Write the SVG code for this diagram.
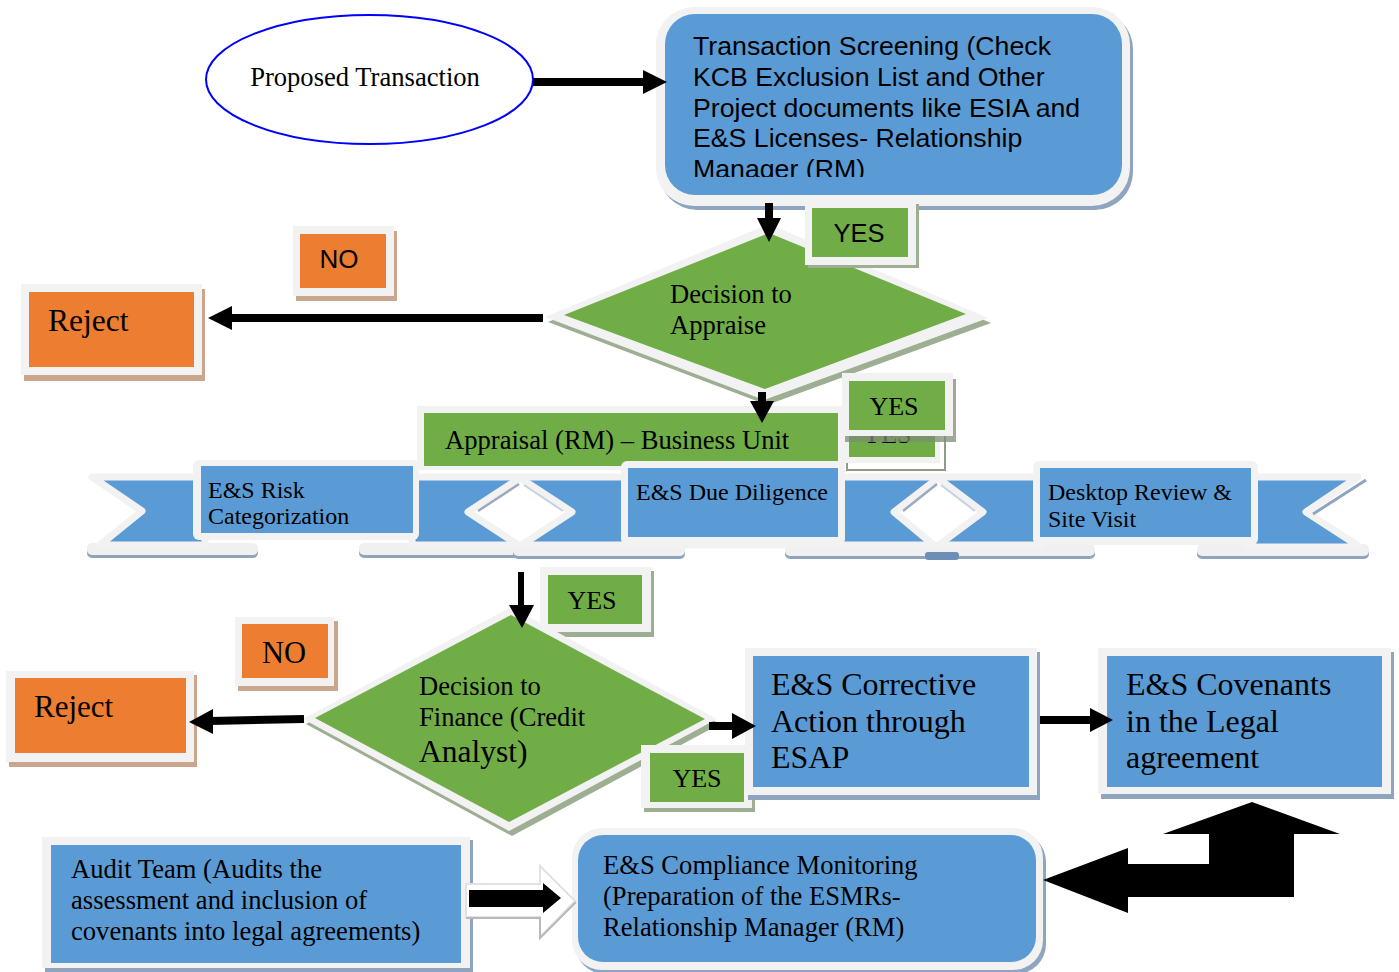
<svg xmlns="http://www.w3.org/2000/svg" width="1399" height="972" viewBox="0 0 1399 972">
<defs>
<style>
.serif{font-family:"Liberation Serif","Times New Roman",serif;fill:#000}
.sans{font-family:"Liberation Sans",Arial,sans-serif;fill:#000}
.blue{fill:#5B9BD5}
.green{fill:#70AD47}
.orange{fill:#ED7D31}
.bord{fill:#F2F2F2}
.shb{fill:#8FA4BF}
.sho{fill:#C9A68C}
.shg{fill:#9DAE93}
.ln{stroke:#000;stroke-width:8;fill:none}
.hd{fill:#000}
.rib{fill:#5B9BD5;stroke:#F2F2F2;stroke-width:7;stroke-linejoin:round}
.tab{fill:#F0F0F0}
</style>
<clipPath id="clipScr"><rect x="660" y="10" width="470" height="167"/></clipPath>
</defs>
<rect width="1399" height="972" fill="#fff"/>

<g id="proposed">
<ellipse cx="369.5" cy="79.5" rx="163.5" ry="64.5" fill="#fff" stroke="#0000FF" stroke-width="2"/>
<text class="serif" x="365" y="86" font-size="26.6" text-anchor="middle">Proposed Transaction</text>
</g>

<g id="screening">
<rect x="659" y="11" width="474" height="199" rx="38" class="shb"/>
<rect x="656" y="7" width="474" height="199" rx="38" class="bord"/>
<rect x="665" y="14" width="457" height="181" rx="30" class="blue"/>
<g clip-path="url(#clipScr)" class="sans" font-size="26.7">
<text x="693" y="55">Transaction Screening (Check</text>
<text x="693" y="86">KCB Exclusion List and Other</text>
<text x="693" y="117">Project documents like ESIA and</text>
<text x="693" y="147">E&amp;S Licenses- Relationship</text>
<text x="693" y="178">Manager (RM)</text>
</g>
</g>

<g id="decision-appraise">
<polygon points="548,322 769,229 991,323 767,405" class="shg"/>
<polygon points="545,317 769,224 988,318 764,400" class="bord"/>
<polygon points="564,315 769,233 966,314 765,389" class="green"/>
<text class="serif" font-size="26.6" x="670" y="303">Decision to</text>
<text class="serif" font-size="26.6" x="670" y="334">Appraise</text>
</g>

<g id="yes1">
<rect x="808" y="204" width="111" height="64" class="shg"/>
<rect x="805" y="200" width="111" height="65" class="bord"/>
<rect x="812" y="208" width="96" height="49" class="green"/>
<text class="sans" font-size="25.5" x="859" y="242" text-anchor="middle">YES</text>
</g>

<g id="no1">
<rect x="296" y="231" width="101" height="70" class="sho"/>
<rect x="293" y="226" width="101" height="70" class="bord"/>
<rect x="300" y="234" width="86" height="54" class="orange"/>
<text class="sans" font-size="26" x="339" y="268" text-anchor="middle">NO</text>
</g>

<g id="reject1">
<rect x="24" y="289" width="181" height="92" class="sho"/>
<rect x="21" y="284" width="181" height="91" class="bord"/>
<rect x="29" y="292" width="165" height="75" class="orange"/>
<text class="serif" font-size="31.5" x="48" y="331">Reject</text>
</g>

<g id="appraisal">
<rect x="417" y="406" width="428" height="64" class="bord"/>
<rect x="424" y="413" width="414" height="53" class="green"/>
<text class="serif" font-size="26.6" x="445" y="449">Appraisal (RM) – Business Unit</text>
</g>

<g id="yes2-ghost">
<rect x="847" y="420" width="98" height="50" fill="none" stroke="#8E9C86" stroke-width="2"/>
<rect x="842" y="414" width="98" height="49" class="bord"/>
<rect x="849" y="422" width="86" height="35" class="green"/>
<text class="serif" font-size="26" x="887" y="443" text-anchor="middle">YES</text>
</g>

<g id="yes2">
<rect x="845" y="379" width="111" height="63" fill="#7E8C76" opacity="0.75"/>
<rect x="842" y="373" width="111" height="63" class="bord"/>
<rect x="849" y="381" width="96" height="49" class="green"/>
<text class="serif" font-size="26" x="894" y="415" text-anchor="middle">YES</text>
</g>

<g id="ribbon">
<rect x="87" y="546" width="171" height="12" rx="5" class="shb"/>
<rect x="87" y="543" width="171" height="12" rx="5" class="tab"/>
<rect x="359" y="546" width="163" height="12" rx="5" class="shb"/>
<rect x="359" y="543" width="163" height="12" rx="5" class="tab"/>
<rect x="513" y="547" width="172" height="12" rx="5" class="shb"/>
<rect x="513" y="544" width="172" height="12" rx="5" class="tab"/>
<rect x="785" y="547" width="310" height="12" rx="5" class="shb"/>
<rect x="785" y="544" width="310" height="12" rx="5" class="tab"/>
<rect x="925" y="552" width="34" height="8" rx="3" fill="#6E8FB5"/>
<rect x="1197" y="547" width="172" height="12" rx="5" class="shb"/>
<rect x="1197" y="544" width="172" height="12" rx="5" class="tab"/>
<polygon points="92,477 205,477 205,545 100,545 142,511" class="rib"/>
<rect x="412" y="477" width="628" height="68" class="rib"/>
<polygon points="1245,477 1358,477 1306,512 1360,547 1245,547" class="rib"/>
<line x1="1366" y1="480" x2="1313" y2="514" stroke="#8FA4BF" stroke-width="3"/>
<polygon points="468,512 520,478 572,512 520,546" fill="#fff" stroke="#F2F2F2" stroke-width="7" stroke-linejoin="round"/>
<line x1="478" y1="511" x2="519" y2="484" stroke="#9AAAC0" stroke-width="2.5"/>
<line x1="524" y1="485" x2="563" y2="511" stroke="#C5D2E2" stroke-width="2"/>
<polygon points="894,512 938,478 983,512 936,547" fill="#fff" stroke="#F2F2F2" stroke-width="7" stroke-linejoin="round"/>
<line x1="903" y1="511" x2="937" y2="484" stroke="#9AAAC0" stroke-width="2.5"/>
<line x1="941" y1="485" x2="975" y2="511" stroke="#C5D2E2" stroke-width="2"/>
</g>

<g id="risk-cat">
<rect x="193" y="460" width="226" height="80" rx="6" class="bord"/>
<rect x="201" y="466" width="212" height="67" class="blue"/>
<text class="serif" font-size="24" x="208" y="498">E&amp;S Risk</text>
<text class="serif" font-size="24" x="208" y="524">Categorization</text>
</g>

<g id="due-diligence">
<rect x="621" y="461" width="224" height="84" rx="6" class="bord"/>
<rect x="628" y="468" width="210" height="69" class="blue"/>
<text class="serif" font-size="24" x="636" y="500">E&amp;S Due Diligence</text>
</g>

<g id="desktop-review">
<rect x="1033" y="461" width="225" height="84" rx="6" class="bord"/>
<rect x="1040" y="468" width="211" height="69" class="blue"/>
<text class="serif" font-size="24" x="1048" y="500">Desktop Review &amp;</text>
<text class="serif" font-size="24" x="1048" y="527">Site Visit</text>
</g>

<g id="yes3">
<rect x="543" y="571" width="111" height="66" class="shg"/>
<rect x="540" y="567" width="111" height="65" class="bord"/>
<rect x="548" y="575" width="94" height="49" class="green"/>
<text class="serif" font-size="26" x="592" y="609" text-anchor="middle">YES</text>
</g>

<g id="decision-finance">
<polygon points="306,724 511,612 720,724 512,836" class="shg"/>
<polygon points="303,719 511,607 717,719 509,831" class="bord"/>
<polygon points="315,718 511,615 705,719 509,822" class="green"/>
<text class="serif" font-size="26.6" x="419" y="695">Decision to</text>
<text class="serif" font-size="26.6" x="419" y="726">Finance (Credit</text>
<text class="serif" font-size="31.5" x="419" y="762">Analyst)</text>
</g>

<g id="no2">
<rect x="238" y="621" width="100" height="70" class="sho"/>
<rect x="235" y="617" width="99" height="69" class="bord"/>
<rect x="242" y="624" width="86" height="54" class="orange"/>
<text class="serif" font-size="30.5" x="284" y="663" text-anchor="middle">NO</text>
</g>

<g id="reject2">
<rect x="9" y="675" width="188" height="92" class="sho"/>
<rect x="6" y="671" width="188" height="91" class="bord"/>
<rect x="15" y="678" width="171" height="75" class="orange"/>
<text class="serif" font-size="31" x="34" y="717">Reject</text>
</g>

<g id="yes4">
<rect x="644" y="749" width="111" height="63" class="shg"/>
<rect x="641" y="745" width="111" height="63" class="bord"/>
<rect x="650" y="753" width="94" height="49" class="green"/>
<text class="serif" font-size="26" x="697" y="787" text-anchor="middle">YES</text>
</g>

<g id="corrective">
<rect x="748" y="652" width="292" height="148" class="shb"/>
<rect x="745" y="648" width="292" height="147" class="bord"/>
<rect x="753" y="656" width="276" height="131" class="blue"/>
<text class="serif" font-size="32" x="771" y="695">E&amp;S Corrective</text>
<text class="serif" font-size="32" x="771" y="732">Action through</text>
<text class="serif" font-size="32" x="771" y="768">ESAP</text>
</g>

<g id="covenants">
<rect x="1101" y="652" width="293" height="147" class="shb"/>
<rect x="1098" y="648" width="293" height="146" class="bord"/>
<rect x="1107" y="656" width="275" height="131" class="blue"/>
<text class="serif" font-size="32" x="1126" y="695">E&amp;S Covenants</text>
<text class="serif" font-size="32" x="1126" y="732">in the Legal</text>
<text class="serif" font-size="32" x="1126" y="768">agreement</text>
</g>

<g id="audit">
<rect x="45" y="840" width="428" height="132" class="shb"/>
<rect x="42" y="837" width="428" height="131" class="bord"/>
<rect x="51" y="845" width="410" height="118" class="blue"/>
<text class="serif" font-size="26.6" x="71" y="878">Audit Team (Audits the</text>
<text class="serif" font-size="26.6" x="71" y="909">assessment and inclusion of</text>
<text class="serif" font-size="26.6" x="71" y="940">covenants into legal agreements)</text>
</g>

<g id="compliance">
<rect x="575" y="832" width="471" height="142" rx="30" class="shb"/>
<rect x="572" y="828" width="471" height="142" rx="30" class="bord"/>
<rect x="578" y="835" width="458" height="127" rx="25" class="blue"/>
<text class="serif" font-size="26.6" x="603" y="874">E&amp;S Compliance Monitoring</text>
<text class="serif" font-size="26.6" x="603" y="905">(Preparation of the ESMRs-</text>
<text class="serif" font-size="26.6" x="603" y="936">Relationship Manager (RM)</text>
</g>

<g id="connectors">
<line x1="533" y1="82" x2="646" y2="82" class="ln"/>
<polygon points="643,70 667,82 643,94" class="hd"/>
<line x1="769" y1="203" x2="769" y2="221" class="ln"/>
<polygon points="757,218 769,242 781,218" class="hd"/>
<line x1="543" y1="318" x2="229" y2="318" class="ln"/>
<polygon points="232,306 208,318 232,330" class="hd"/>
<line x1="762" y1="392" x2="762" y2="404" class="ln"/>
<polygon points="750,401 762,423 774,401" class="hd"/>
<line x1="521" y1="572" x2="521" y2="608" stroke="#000" stroke-width="6"/>
<polygon points="509,605 522,628 534,605" class="hd"/>
<line x1="304" y1="719" x2="210" y2="721" class="ln"/>
<polygon points="213,709 189,722 213,734" class="hd"/>
<line x1="709" y1="726" x2="735" y2="726" class="ln"/>
<polygon points="732,713 756,726 732,739" class="hd"/>
<line x1="1040" y1="720" x2="1092" y2="720" class="ln"/>
<polygon points="1090,708 1113,720 1090,732" class="hd"/>
<polygon points="466,884 540,884 540,866 575,901 540,937 540,917 466,917" fill="#fff" stroke="#E2E2E2" stroke-width="2"/>
<polyline points="466,918 540,918 540,938 576,902" fill="none" stroke="#B9B9B9" stroke-width="2"/>
<polygon points="469,890 543,890 543,883 561,898 543,913 543,907 469,907" class="hd"/>
<polygon points="1043,880 1128,848 1128,864 1209,864 1209,834 1163,834 1252,802 1340,834 1294,834 1294,897 1128,897 1128,913" class="hd"/>
</g>
</svg>
